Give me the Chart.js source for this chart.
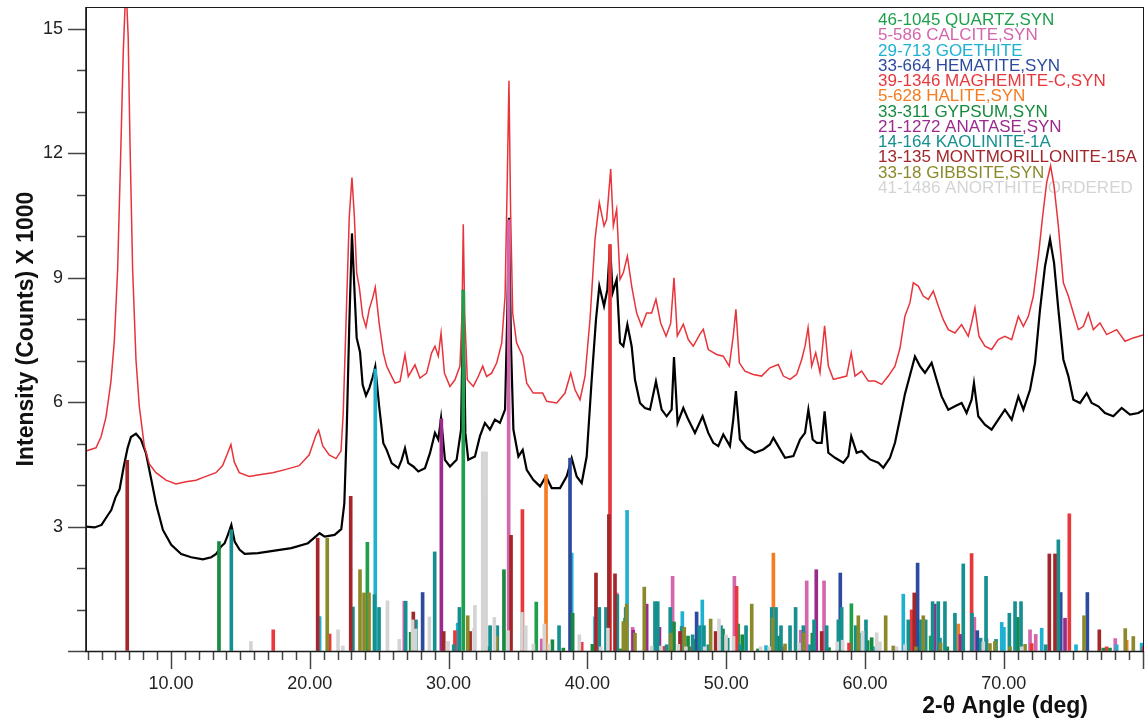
<!DOCTYPE html>
<html>
<head>
<meta charset="utf-8">
<script src="https://cdn.jsdelivr.net/npm/chart.js@4.4.1/dist/chart.umd.min.js"></script>
<style>
  html, body { margin: 0; padding: 0; background: #fff; }
  #wrap { width: 1145px; height: 722px; }
</style>
</head>
<body>
<div id="wrap"><canvas id="xrd" width="1145" height="722"></canvas></div>
<script>
// --- scans: [2-theta, counts / 1000] ---
const scanLower = [
  [3.88,3.0],[4.5,2.98],[5.0,3.04],[5.4,3.25],[5.7,3.4],[6.0,3.7],[6.3,3.9],[6.6,4.45],[6.88,4.9],[7.12,5.16],
  [7.48,5.24],[7.84,5.1],[8.2,4.77],[8.56,4.17],[8.94,3.53],[9.42,2.92],[10.02,2.56],[10.74,2.34],[11.46,2.26],[12.3,2.21],
  [12.9,2.26],[13.26,2.34],[13.62,2.52],[13.87,2.6],[14.1,2.8],[14.35,3.04],[14.59,2.64],[14.95,2.44],[15.31,2.34],[16.27,2.36],
  [17.47,2.42],[18.67,2.48],[19.87,2.6],[20.71,2.84],[21.07,2.76],[21.79,2.8],[22.27,2.94],[22.49,3.56],[22.66,5.3],[22.85,7.9],
  [23.04,10.07],[23.21,8.77],[23.38,7.55],[23.62,7.21],[23.81,6.42],[24.05,6.16],[24.29,6.34],[24.53,6.6],[24.72,6.86],[25.0,5.9],
  [25.3,5.01],[25.54,4.85],[25.9,4.53],[26.38,4.41],[26.62,4.61],[26.86,4.89],[27.1,4.53],[27.46,4.45],[27.82,4.33],[28.3,4.41],
  [28.66,4.77],[29.02,5.26],[29.26,5.1],[29.46,5.62],[29.74,4.61],[30.1,4.45],[30.58,4.61],[30.9,5.34],[31.06,8.72],[31.21,5.26],
  [31.42,4.61],[31.9,4.69],[32.26,5.18],[32.62,5.5],[32.98,5.34],[33.34,5.58],[33.7,5.5],[34.07,5.82],[34.23,8.15],[34.35,10.45],
  [34.5,7.35],[34.67,5.34],[35.03,4.69],[35.34,4.85],[35.63,4.37],[36.1,4.13],[36.59,3.97],[37.02,4.21],[37.43,3.93],[38.03,3.93],
  [38.51,4.21],[38.87,4.65],[39.23,4.21],[39.59,4.05],[39.95,4.69],[40.31,6.54],[40.62,7.99],[40.86,8.8],[41.2,8.32],[41.44,8.72],
  [41.63,9.8],[41.82,8.64],[42.11,8.96],[42.35,7.43],[42.59,7.35],[42.88,7.87],[43.19,7.35],[43.43,6.54],[43.79,5.98],[44.15,5.86],
  [44.51,5.82],[44.94,6.5],[45.35,5.82],[45.71,5.66],[46.07,5.82],[46.24,7.09],[46.5,5.5],[46.91,5.86],[47.27,5.58],[47.75,5.26],
  [48.3,5.66],[48.71,5.26],[49.07,5.02],[49.43,4.94],[49.79,5.22],[50.27,4.94],[50.51,5.58],[50.7,6.27],[50.99,5.1],[51.47,4.9],
  [52.07,4.78],[52.67,4.86],[53.15,4.98],[53.4,5.14],[53.75,4.94],[54.24,4.66],[54.84,4.7],[55.32,5.1],[55.68,5.26],[55.92,5.82],
  [56.23,5.1],[56.52,5.02],[56.88,5.02],[57.09,5.78],[57.36,4.78],[57.84,4.66],[58.44,4.54],[58.8,4.7],[59.01,5.18],[59.4,4.78],
  [59.76,4.82],[60.36,4.62],[60.96,4.54],[61.32,4.42],[61.8,4.66],[62.16,5.02],[62.52,5.6],[62.88,6.2],[63.24,6.65],[63.6,7.1],
  [63.96,6.87],[64.32,6.71],[64.8,6.95],[65.16,6.54],[65.52,6.14],[66.0,5.82],[66.48,5.9],[66.96,5.98],[67.32,5.74],[67.68,6.06],
  [67.85,6.46],[68.16,5.66],[68.64,5.46],[69.12,5.34],[69.6,5.58],[70.08,5.82],[70.57,5.58],[71.05,6.14],[71.41,5.82],[71.89,6.3],
  [72.25,6.95],[72.61,8.24],[72.97,9.28],[73.33,9.93],[73.62,9.36],[73.93,8.24],[74.29,7.03],[74.65,6.63],[75.01,6.06],[75.49,5.98],
  [75.97,6.22],[76.33,5.98],[76.81,5.9],[77.29,5.74],[77.89,5.66],[78.49,5.86],[79.09,5.7],[79.69,5.74],[80.1,5.82]
];

const scanUpper = [
  [3.88,4.82],[4.6,4.9],[4.96,5.16],[5.32,5.64],[5.68,6.51],[5.92,7.47],[6.16,9.2],[6.4,12.25],[6.56,14.4],[6.7,15.6],
  [6.82,15.6],[6.92,14.8],[7.05,12.25],[7.24,9.2],[7.48,7.03],[7.72,5.9],[8.08,4.95],[8.44,4.51],[8.92,4.3],[9.64,4.12],
  [10.36,4.03],[11.08,4.08],[11.8,4.12],[12.52,4.21],[13.24,4.3],[13.72,4.47],[14.08,4.77],[14.32,4.98],[14.56,4.56],[14.92,4.3],
  [15.64,4.21],[16.36,4.25],[17.33,4.3],[18.29,4.38],[19.24,4.47],[19.96,4.73],[20.45,5.21],[20.64,5.33],[20.93,4.95],[21.4,4.73],
  [21.89,4.64],[22.25,4.82],[22.41,5.73],[22.61,7.9],[22.85,10.5],[23.04,11.42],[23.21,10.5],[23.38,9.12],[23.57,8.77],[23.81,8.08],
  [24.05,7.81],[24.29,8.25],[24.53,8.51],[24.72,8.77],[25.0,7.9],[25.3,7.19],[25.54,6.87],[25.78,6.7],[26.14,6.46],[26.5,6.5],
  [26.86,7.15],[27.1,6.62],[27.58,6.9],[27.94,6.58],[28.42,6.7],[28.78,7.19],[29.02,7.35],[29.26,7.11],[29.46,7.67],[29.7,6.7],
  [30.1,6.38],[30.46,6.54],[30.82,6.87],[30.97,8.15],[31.06,10.29],[31.16,8.15],[31.35,6.54],[31.78,6.38],[32.14,6.62],[32.46,6.87],
  [32.74,6.62],[33.1,6.7],[33.47,6.95],[33.83,7.43],[34.07,8.56],[34.23,11.37],[34.35,13.75],[34.47,10.57],[34.62,8.15],[34.9,7.43],
  [35.34,7.11],[35.63,6.46],[36.1,6.22],[36.78,6.22],[37.07,6.02],[37.79,5.98],[38.39,6.22],[38.8,6.7],[39.11,6.3],[39.47,6.06],
  [39.83,6.62],[40.19,8.0],[40.55,9.93],[40.86,10.81],[41.2,10.25],[41.39,10.41],[41.68,11.62],[41.87,10.25],[42.11,10.65],[42.35,8.96],
  [42.59,9.12],[42.88,9.52],[43.19,8.8],[43.55,8.15],[43.91,7.83],[44.27,8.15],[44.63,8.15],[44.94,8.48],[45.28,7.91],[45.67,7.59],
  [46.0,7.9],[46.24,9.0],[46.48,7.6],[46.91,7.88],[47.27,7.51],[47.63,7.35],[48.11,7.64],[48.35,7.76],[48.71,7.27],[49.31,7.15],
  [49.79,7.11],[50.22,6.87],[50.51,7.6],[50.7,8.24],[50.95,6.95],[51.35,6.75],[51.95,6.67],[52.55,6.63],[53.15,6.83],[53.75,6.91],
  [54.12,6.63],[54.6,6.55],[55.08,6.67],[55.44,7.03],[55.68,7.35],[55.9,7.8],[56.16,6.87],[56.45,7.19],[56.76,6.71],[57.09,7.84],
  [57.36,6.87],[57.72,6.55],[58.2,6.59],[58.68,6.63],[59.01,7.19],[59.28,6.63],[59.76,6.75],[60.24,6.51],[60.72,6.51],[61.2,6.43],
  [61.68,6.63],[62.16,6.87],[62.52,7.3],[62.88,8.08],[63.24,8.4],[63.48,8.88],[63.84,8.8],[64.2,8.56],[64.56,8.48],[64.92,8.68],
  [65.28,8.32],[65.64,7.99],[66.0,7.75],[66.48,7.67],[66.96,7.87],[67.44,7.59],[67.68,7.91],[67.92,8.28],[68.21,7.59],[68.64,7.35],
  [69.12,7.27],[69.6,7.51],[70.08,7.59],[70.57,7.51],[71.05,8.07],[71.41,7.83],[71.77,8.07],[72.13,8.56],[72.49,9.52],[72.8,10.49],
  [73.09,11.3],[73.37,11.7],[73.62,11.21],[73.93,10.25],[74.29,8.88],[74.65,8.56],[75.01,8.15],[75.37,7.75],[75.73,7.83],[76.09,8.15],
  [76.45,7.75],[76.93,7.91],[77.41,7.63],[78.13,7.75],[78.73,7.47],[79.33,7.55],[80.1,7.63]
];

// --- reference patterns: [2-theta, stick height] ---
const quartz = [[24.15,2.62],[31.06,8.7],[36.32,1.18],[42.71,0.79],[50.87,0.65],[59.02,1.14],[64.73,0.36]];
const calcite = [[26.81,1.2],[34.33,10.4],[36.71,0.29],[42.11,1.4],[43.26,0.57],[46.14,1.8],[50.59,1.8],[55.37,0.5],
  [55.8,1.69],[57.05,1.69],[67.88,0.81],[68.76,0.3],[71.89,0.51],[72.3,0.4],[78.03,0.3]];
const goethite = [[20.71,0.83],[24.72,6.8],[30.66,0.67],[38.87,2.36],[40.55,0.82],[42.86,3.39],[46.84,0.95],[48.28,1.23],
  [52.87,0.13],[59.64,0.43],[60.65,0.1],[62.76,1.37],[69.85,0.69],[70.01,0.57],[72.73,0.55],[75.2,0.15],[78.13,0.15],[79.93,0.19]];
const hematite = [[28.13,1.41],[38.75,4.65],[47.87,0.94],[58.22,1.88],[63.79,2.12],[63.89,0.41],[68.09,0.49],[74.1,1.41],[76.02,1.41]];
const maghemite = [[17.37,0.51],[21.43,0.41],[30.46,0.49],[35.32,3.41],[39.59,0.21],[41.63,9.8],[45.52,0.11],[47.34,0.1],
  [50.75,1.56],[54.07,0.1],[58.85,0.19],[63.36,0.99],[67.68,2.35],[72.01,0.18],[74.72,3.31],[77.41,0.1],[80.05,0.1]];
const halite = [[37.02,4.25],[53.4,2.36],[66.72,0.65],[78.85,0.26]];
const gypsum = [[13.46,2.64],[27.27,0.45],[32.87,0.1],[33.99,1.96],[37.48,0.27],[38.27,0.07],[38.94,0.91],[40.36,0.16],
  [42.42,0.05],[46.24,0.7],[47.25,0.36],[47.63,0.28],[49.77,0.53],[51.16,0.39],[52.29,0.05],[53.8,0.36],[56.21,0.43],
  [57.41,0.08],[60.19,0.25],[60.48,0.32],[65.93,0.1],[71.0,0.81],[77.17,0.07],[77.65,0.07]];
const anatase = [[29.48,5.6],[43.3,0.5],[44.27,1.13],[45.19,0.57],[56.49,1.96],[65.02,1.13],[66.87,0.4],[74.41,0.79]];
const kaolinite = [[14.35,2.92],[23.11,1.06],[24.66,1.36],[24.99,1.05],[26.91,1.2],[27.65,0.75],[29.0,2.39],[30.37,0.15],
  [30.78,1.05],[32.99,0.61],[33.51,0.61],[37.96,0.61],[40.86,1.05],[41.34,1.05],[42.16,1.36],[42.76,1.05],[44.87,1.19],
  [45.07,1.19],[45.71,0.15],[45.97,1.05],[46.79,0.59],[47.58,0.39],[48.07,0.61],[48.4,0.61],[48.71,0.15],[49.63,0.61],
  [50.11,0.31],[50.99,0.15],[51.43,0.61],[53.28,1.05],[53.59,1.05],[53.95,0.61],[54.6,0.61],[55.0,1.05],[55.56,0.61],
  [56.04,0.15],[56.33,0.75],[57.24,0.61],[58.08,0.75],[58.32,1.05],[59.33,0.61],[60.07,0.75],[63.12,0.75],[64.03,0.75],
  [64.37,0.75],[64.87,1.19],[65.28,1.19],[65.4,0.31],[65.76,1.19],[66.48,0.91],[67.08,2.1],[67.71,0.91],[68.33,0.31],
  [68.72,1.8],[69.44,0.28],[70.4,0.91],[70.81,1.19],[71.24,1.19],[73.02,0.15],[73.93,2.68]];
const montmorillonite = [[6.85,4.6],[20.57,2.72],[22.95,3.73],[27.46,0.94],[29.65,0.47],[31.55,0.47],[34.5,2.79],[40.62,1.88],
  [41.55,3.29],[41.99,1.86],[46.67,0.47],[49.24,0.47],[56.88,0.47],[63.55,1.4],[73.28,2.34],[73.69,2.34],[76.88,0.51]];
const gibbsite = [[21.26,2.72],[23.62,1.96],[23.91,1.4],[24.27,1.4],[31.38,0.85],[33.45,0.35],[42.59,0.71],[42.83,1.13],
  [43.43,0.43],[44.1,1.54],[46.02,0.43],[46.98,0.57],[48.88,0.77],[51.84,1.13],[53.35,0.79],[54.24,0.17],[55.6,0.43],
  [59.52,0.85],[61.49,0.85],[62.04,0.12],[63.67,0.1],[64.2,0.85],[65.45,0.2],[69.0,0.18],[69.36,0.23],[70.45,0.1],
  [71.53,0.16],[75.78,0.85],[78.75,0.54],[79.33,0.35]];
const anorthite = [[15.76,0.23],[22.04,0.51],[22.38,0.12],[25.6,1.21],[26.45,0.28],[27.41,0.75],[27.62,0.53],[28.62,0.82],
  [29.96,0.23],[31.84,0.55],[31.9,1.1],[32.46,4.8],[32.58,3.73],[32.7,4.8],[33.3,0.81],[34.28,0.49],[35.28,0.93],
  [35.56,0.61],[36.11,0.17],[36.9,0.65],[37.24,0.17],[39.42,0.39],[40.96,0.1],[41.48,0.55],[44.63,0.12],[45.3,0.12],
  [46.55,0.16],[47.1,0.1],[48.45,0.1],[49.48,0.77],[49.99,0.39],[50.53,0.35],[52.48,0.1],[53.11,0.1],[55.24,0.19],
  [58.0,0.22],[58.39,0.26],[59.83,0.48],[60.84,0.44],[61.08,0.22],[62.28,0.1],[62.88,0.15],[68.52,0.22],[71.29,0.1]];

const phaseCards = [
  '46-1045 QUARTZ,SYN', '5-586 CALCITE,SYN', '29-713 GOETHITE', '33-664 HEMATITE,SYN',
  '39-1346 MAGHEMITE-C,SYN', '5-628 HALITE,SYN', '33-311 GYPSUM,SYN', '21-1272 ANATASE,SYN',
  '14-164 KAOLINITE-1A', '13-135 MONTMORILLONITE-15A', '33-18 GIBBSITE,SYN', '41-1486 ANORTHITE ORDERED'
];
const phaseSticks = [quartz, calcite, goethite, hematite, maghemite, halite, gypsum, anatase,
  kaolinite, montmorillonite, gibbsite, anorthite];
const phaseColors = ['#1e9f4c', '#d466ae', '#1fb1d2', '#2d4b9e', '#e8383c', '#f47c22',
  '#178a3f', '#9a2b8d', '#16908f', '#a2262a', '#8b8a2b', '#d4d4d4'];

const xTickLabels = [10, 20, 30, 40, 50, 60, 70];
const yTickLabels = [3, 6, 9, 12, 15];

const FONT = "'Liberation Sans', Arial, Helvetica, sans-serif";
const toPoints = arr => arr.map(([x, y]) => ({ x, y }));

// sticks: gray card first so the coloured ones sit on top of it
const stickSets = phaseSticks.map((s, i) => ({
  type: 'bar',
  label: phaseCards[i],
  data: toPoints(s),
  backgroundColor: phaseColors[i],
  borderWidth: 0,
  barThickness: 3,
  grouped: false,
  order: 1
})).reverse();

const scanSets = [
  { type: 'line', label: 'upper', data: toPoints(scanUpper), borderColor: '#e8333a', borderWidth: 1.5,
    pointRadius: 0, tension: 0, order: 5 },
  { type: 'line', label: 'lower', data: toPoints(scanLower), borderColor: '#000', borderWidth: 2.2,
    pointRadius: 0, tension: 0, order: 5 }
];

// frame and the long/short tick marks
const axisFrame = {
  id: 'axisFrame',
  afterDraw(chart) {
    const { ctx, chartArea: a, scales: { x, y } } = chart;
    ctx.save();
    ctx.strokeStyle = '#444';
    ctx.lineWidth = 1.5;
    for (let d = 4; d <= 80; d++) {
      const px = Math.round(x.getPixelForValue(d)) + 0.5;
      const len = d % 10 === 0 ? 18 : 9;
      ctx.beginPath(); ctx.moveTo(px, a.bottom); ctx.lineTo(px, a.bottom + len); ctx.stroke();
    }
    for (let v = 0; v <= 15; v++) {
      const py = Math.round(y.getPixelForValue(v)) + 0.5;
      const len = v % 3 === 0 ? 18 : 9;
      ctx.beginPath(); ctx.moveTo(a.left - len, py); ctx.lineTo(a.left, py); ctx.stroke();
    }
    ctx.strokeStyle = '#1a1a1a';
    ctx.lineWidth = 1;
    ctx.strokeRect(a.left + 0.5, a.top + 0.5, a.right - a.left - 1, a.bottom - a.top);
    ctx.lineWidth = 1.6;
    ctx.beginPath();
    ctx.moveTo(a.left, a.top); ctx.lineTo(a.left, a.bottom + 0.5); ctx.lineTo(a.right, a.bottom + 0.5);
    ctx.stroke();

    ctx.fillStyle = '#111';
    ctx.font = `bold 23px ${FONT}`;
    ctx.textAlign = 'right';
    ctx.textBaseline = 'alphabetic';
    ctx.fillText('2-θ Angle (deg)', 1088, 713);
    ctx.restore();
  }
};

// card list in the top right corner, under the scans
const cardList = {
  id: 'cardList',
  beforeDatasetsDraw(chart) {
    const { ctx } = chart;
    ctx.save();
    ctx.font = `17px ${FONT}`;
    ctx.textAlign = 'left';
    ctx.textBaseline = 'alphabetic';
    phaseCards.forEach((name, i) => {
      ctx.fillStyle = phaseColors[i];
      ctx.fillText(name, 878, 25 + i * 15.25);
    });
    ctx.restore();
  }
};

new Chart(document.getElementById('xrd'), {
  type: 'line',
  data: { datasets: [...stickSets, ...scanSets] },
  options: {
    responsive: false,
    animation: false,
    layout: { padding: { top: 7, right: 1, left: 0, bottom: 0 } },
    plugins: { legend: { display: false }, tooltip: { enabled: false } },
    scales: {
      x: {
        type: 'linear',
        min: 3.88,
        max: 80.1,
        offset: false,
        border: { display: false },
        grid: { display: true, drawOnChartArea: false, drawTicks: true, tickLength: 18, color: 'rgba(0,0,0,0)' },
        ticks: {
          stepSize: 1,
          autoSkip: false,
          maxRotation: 0,
          includeBounds: false,
          padding: 4,
          color: '#222',
          font: { family: FONT, size: 18 },
          callback: v => (xTickLabels.includes(v) ? v.toFixed(2) : '')
        },
        afterFit(s) { s.height = 71; s.paddingLeft = 0; s.paddingRight = 0; }
      },
      y: {
        min: 0,
        max: 15.53,
        border: { display: false },
        grid: { display: true, drawOnChartArea: false, drawTicks: true, tickLength: 18, color: 'rgba(0,0,0,0)' },
        ticks: {
          stepSize: 1,
          autoSkip: false,
          includeBounds: false,
          padding: 5,
          color: '#222',
          font: { family: FONT, size: 18 },
          callback: v => (yTickLabels.includes(v) ? String(v) : '')
        },
        title: {
          display: true,
          text: 'Intensity (Counts) X 1000',
          color: '#111',
          font: { family: FONT, size: 23, weight: 'bold' },
          padding: { top: 13, bottom: 0 }
        },
        afterFit(s) { s.width = 86; s.paddingTop = 0; s.paddingBottom = 0; }
      }
    }
  },
  plugins: [axisFrame, cardList]
});
</script>
</body>
</html>
